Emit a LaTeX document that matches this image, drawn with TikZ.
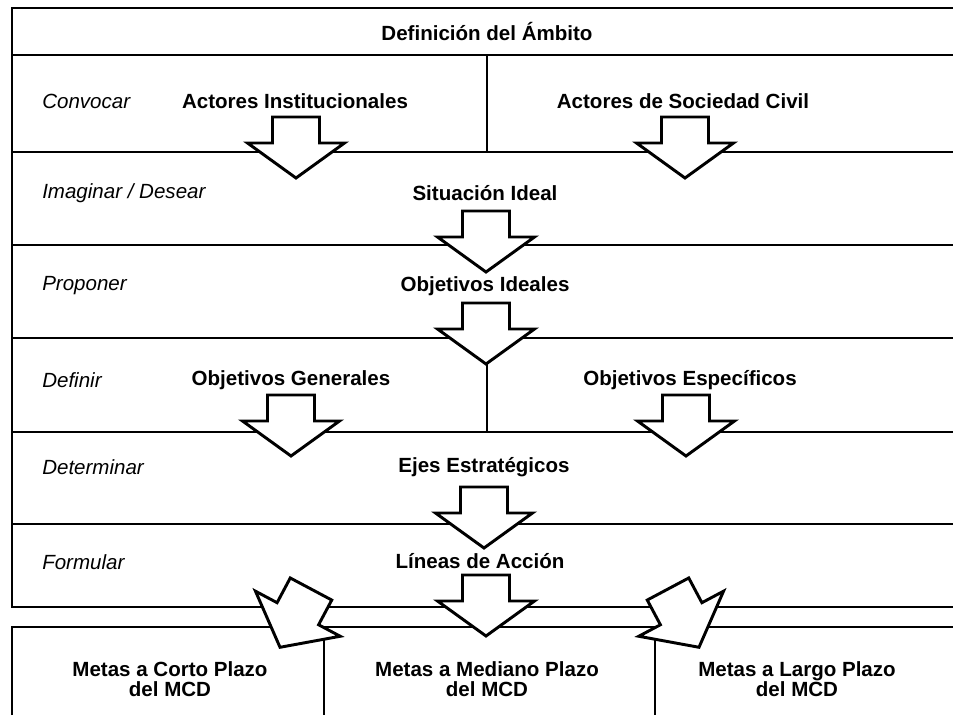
\documentclass[tikz,border=0pt]{standalone}
\usepackage{fontspec}
\setmainfont{Liberation Sans}
\begin{document}
\begin{tikzpicture}[x=0.75pt,y=-0.75pt,
  rowline/.style={line width=1.1pt, draw=black},
  lab/.style={font=\fontsize{15.4}{15}\selectfont\itshape, anchor=west, inner sep=0pt},
  ttl/.style={font=\fontsize{15.4}{15}\selectfont\bfseries, inner sep=0pt, align=center},
  blockarrow/.pic={\draw[line width=2.2pt, fill=white, line join=miter]
     (-23.5,0) -- (23.5,0) -- (23.5,26) -- (48.5,26) -- (0,61) -- (-48.5,26) -- (-23.5,26) -- cycle;},
  tiltarrow/.pic={\draw[line width=2.2pt, fill=white, line join=miter]
     (-23.5,0) -- (23.5,0) -- (23.5,28) -- (48,28) -- (0,66) -- (-48,28) -- (-23.5,28) -- cycle;}
]
\useasboundingbox (0,0) rectangle (953,715);

% table frame
\draw[rowline] (953,8) -- (12,8) -- (12,607) -- (953,607);
\foreach \y in {55,152,245,338,432,524}
  \draw[rowline] (12,\y) -- (953,\y);
\draw[rowline] (487,55) -- (487,152);
\draw[rowline] (487,338) -- (487,432);

% bottom box
\draw[rowline] (12,715) -- (12,627) -- (953,627);
\draw[rowline] (324,627) -- (324,715);
\draw[rowline] (655,627) -- (655,715);

% texts
\node[ttl] (def) at (487,31) {Definición del Ámbito};
\node[lab] (l1) at (42,101) {Convocar};
\node[ttl] (ai) at (295,101) {Actores Institucionales};
\node[ttl] (as) at (683,101) {Actores de Sociedad Civil};
\node[lab] (l2) at (42,193) {Imaginar / Desear};
\node[ttl] (si) at (485,193) {Situación Ideal};
\node[lab] (l3) at (42,286) {Proponer};
\node[ttl] (oi) at (485,286) {Objetivos Ideales};
\node[lab] (l4) at (42,380) {Definir};
\node[ttl] (og) at (291,380) {Objetivos Generales};
\node[ttl] (oe) at (690,380) {Objetivos Específicos};
\node[lab] (l5) at (42,467) {Determinar};
\node[ttl] (ee) at (484,467) {Ejes Estratégicos};
\node[lab] (l6) at (42,562) {Formular};
\node[ttl] (la) at (480,561) {Líneas de Acción};
\node[ttl] (mc) at (170,679) {Metas a Corto Plazo\\del MCD};
\node[ttl] (mm) at (487,679) {Metas a Mediano Plazo\\del MCD};
\node[ttl] (ml) at (797,679) {Metas a Largo Plazo\\del MCD};

% block arrows
\pic (a1) at (296,117) {blockarrow};
\pic (a2) at (685,117) {blockarrow};
\pic (a3) at (486,211) {blockarrow};
\pic (a4) at (486,303) {blockarrow};
\pic (a5) at (291,395) {blockarrow};
\pic (a6) at (686,395) {blockarrow};
\pic (a7) at (484,487) {blockarrow};
\pic (a8) at (486,575) {blockarrow};
\pic[rotate=-28] (a9) at (311,589) {tiltarrow};
\pic[rotate=28] (a10) at (668,589) {tiltarrow};
\end{tikzpicture}
\end{document}
